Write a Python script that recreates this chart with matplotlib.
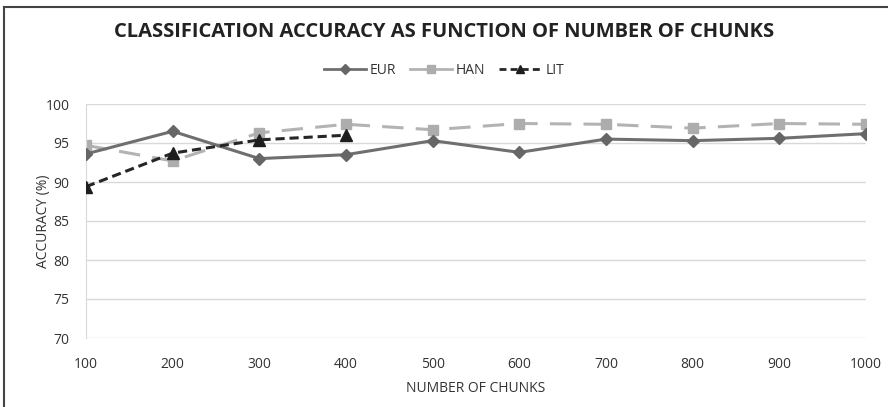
import matplotlib.pyplot as plt
from matplotlib.lines import Line2D

plt.rcParams['font.family'] = ['Open Sans', 'DejaVu Sans']

chunks = [100, 200, 300, 400, 500, 600, 700, 800, 900, 1000]
eur = [93.6, 96.5, 93.0, 93.5, 95.3, 93.8, 95.5, 95.3, 95.6, 96.2]
han = [94.7, 92.7, 96.3, 97.4, 96.7, 97.5, 97.4, 96.9, 97.5, 97.4]
lit_chunks = [100, 200, 300, 400]
lit = [89.4, 93.7, 95.4, 96.0]
yticks = [70, 75, 80, 85, 90, 95, 100]

W, H = 888, 407
fig = plt.figure(figsize=(W / 100, H / 100), dpi=100)
ax = fig.add_axes([86 / W, 1 - 338 / H, (866 - 86) / W, (338 - 104) / H])

ax.plot(chunks, eur, color='#6f6f6f', lw=2.2, marker='D', ms=6.5,
        mfc='#666666', mec='#666666', label='EUR', zorder=3)
ax.plot(chunks, han, color='#b3b3b3', lw=2.2, dashes=(7, 4), marker='s', ms=7.5,
        mfc='#adadad', mec='#adadad', label='HAN', zorder=2)
ax.plot(lit_chunks, lit, color='#262626', lw=2.2, dashes=(3, 1.6), marker='^', ms=8,
        mfc='#1e1e1e', mec='#1e1e1e', label='LIT', zorder=4)

ax.set_xlim(100, 1000)
ax.set_ylim(70, 100)
ax.set_xticks(chunks)
ax.set_yticks(yticks)
ax.grid(axis='y', color='#d9d9d9', lw=1)
ax.set_axisbelow(True)
for s in ['top', 'right', 'bottom']:
    ax.spines[s].set_visible(False)
ax.spines['left'].set_color('#d9d9d9')
ax.tick_params(length=0, labelsize=10, colors='#333333')
ax.tick_params(axis='x', pad=14)
ax.tick_params(axis='y', pad=12)

ax.set_xlabel('NUMBER OF CHUNKS', fontsize=10, color='#333333', labelpad=6)
ax.set_ylabel('ACCURACY (%)', fontsize=10, color='#333333')
ax.yaxis.set_label_coords(-0.045, 0.5)

fig.text(0.5, 1 - 32 / H, 'CLASSIFICATION ACCURACY AS FUNCTION OF NUMBER OF CHUNKS',
         ha='center', va='center', fontsize=14.5, fontweight='bold', color='#222222')

handles = [
    Line2D([], [], color='#6f6f6f', lw=2, marker='D', ms=5, mfc='#666666', mec='#666666'),
    Line2D([], [], color='#b3b3b3', lw=2, marker='s', ms=6, mfc='#adadad', mec='#adadad'),
    Line2D([], [], color='#262626', lw=2, dashes=(2.5, 1.5), marker='^', ms=6, mfc='#1e1e1e', mec='#1e1e1e'),
]
fig.legend(handles, ['EUR', 'HAN', 'LIT'], loc='center', bbox_to_anchor=(0.5, 1 - 70 / H),
           ncol=3, frameon=False, fontsize=10, handlelength=3.0, columnspacing=1.0,
           handletextpad=0.3, labelcolor='#333333')

# frame around the picture (top and left edge only, as in the cropped original)
fig.add_artist(Line2D([4 / W, 4 / W], [0, 1 - 7 / H], color='#444444', lw=1.5))
fig.add_artist(Line2D([4 / W, 1], [1 - 7 / H, 1 - 7 / H], color='#444444', lw=1.5))

fig.savefig('out.png', dpi=100)
